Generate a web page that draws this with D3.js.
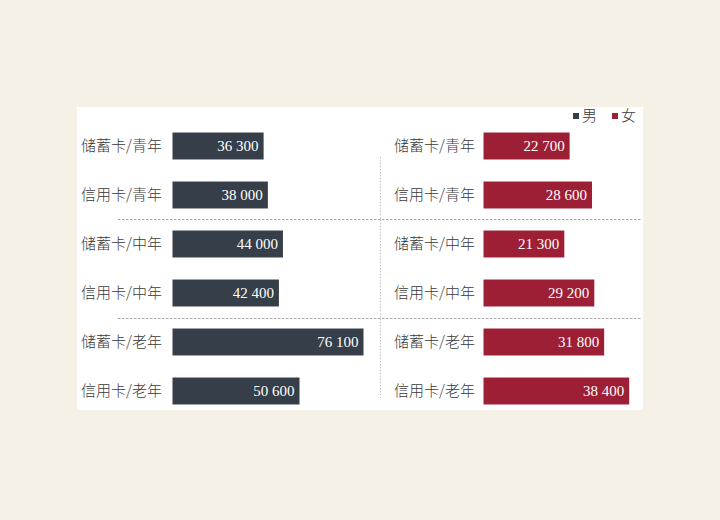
<!DOCTYPE html>
<html>
<head>
<meta charset="utf-8">
<script src="https://cdn.jsdelivr.net/npm/d3@7"></script>
<style>
  body { margin:0; background:#f6f1e7; }
  svg { display:block; }
  .lbl { font-family:"Noto Sans CJK SC", sans-serif; font-size:15px; fill:#3a3a3a; font-weight:300; }
  .val { font-family:"Liberation Serif", "DejaVu Serif", serif; font-size:15px; fill:#fff; }
</style>
</head>
<body>
<div id="canvas"></div>
<script>
// data
var categories = ['储蓄卡/青年','信用卡/青年','储蓄卡/中年','信用卡/中年','储蓄卡/老年','信用卡/老年'];
var male   = [36300, 38000, 44000, 42400, 76100, 50600];
var female = [22700, 28600, 21300, 29200, 31800, 38400];
var series = ['男','女'];
var colors = ['#363f49','#9d1f36'];

var W = 720, H = 520;
var svg = d3.select('#canvas').append('svg')
    .attr('width', W).attr('height', H);

// white panel
svg.append('rect')
    .attr('x', 77).attr('y', 107)
    .attr('width', 566).attr('height', 303)
    .attr('fill', '#fff');

var y = d3.scaleBand().domain(categories).range([121.5, 415.5]).paddingInner(0.45).paddingOuter(0.225);

var panels = [
    {vals: male,   x0: 172.5, x: d3.scaleLinear().domain([0, 76100]).range([0, 191]), color: colors[0], labelEnd: 162},
    {vals: female, x0: 483.5, x: d3.scaleLinear().domain([0, 38400]).range([0, 145.7]), color: colors[1], labelEnd: 475}
];

var fmt = function(v){ return d3.format(',')(v).replace(/,/g, ' '); };

// grid lines
var sepY = [219.5, 318.5];
svg.selectAll('.hsep').data(sepY).enter().append('line')
    .attr('x1', 118).attr('x2', 641)
    .attr('y1', function(d){ return d; }).attr('y2', function(d){ return d; })
    .attr('stroke', '#8a8a8a').attr('stroke-width', 0.8)
    .attr('stroke-dasharray', '2.5,1.5');
svg.append('line')
    .attr('x1', 380.5).attr('x2', 380.5).attr('y1', 157).attr('y2', 398)
    .attr('stroke', '#b0b0b0').attr('stroke-width', 0.8)
    .attr('stroke-dasharray', '1.5,1.5');

panels.forEach(function(p){
    var g = svg.append('g');
    var rows = g.selectAll('g').data(categories).enter().append('g');

    rows.append('text').attr('class','lbl')
        .attr('x', p.labelEnd)
        .attr('y', function(d){ return y(d) + y.bandwidth()/2; })
        .attr('dy', '0.35em')
        .attr('text-anchor', 'end')
        .text(function(d){ return d; });

    rows.append('rect')
        .attr('x', p.x0)
        .attr('y', function(d){ return y(d); })
        .attr('height', y.bandwidth())
        .attr('width', function(d, i){ return p.x(p.vals[i]); })
        .attr('fill', p.color);

    rows.append('text').attr('class','val')
        .attr('x', function(d, i){ return p.x0 + p.x(p.vals[i]) - 5; })
        .attr('y', function(d){ return y(d) + y.bandwidth()/2; })
        .attr('dy', '0.35em')
        .attr('text-anchor', 'end')
        .text(function(d, i){ return fmt(p.vals[i]); });
});

// legend
var leg = svg.append('g').selectAll('g').data(series).enter().append('g')
    .attr('transform', function(d, i){ return 'translate(' + (573 + i*39) + ',0)'; });
leg.append('rect').attr('x', 0).attr('y', 113).attr('width', 6).attr('height', 6)
    .attr('fill', function(d, i){ return colors[i]; });
leg.append('text').attr('class','lbl')
    .attr('x', 9).attr('y', 116).attr('dy','0.35em')
    .style('font-size','15px')
    .text(function(d){ return d; });
</script>
</body>
</html>
